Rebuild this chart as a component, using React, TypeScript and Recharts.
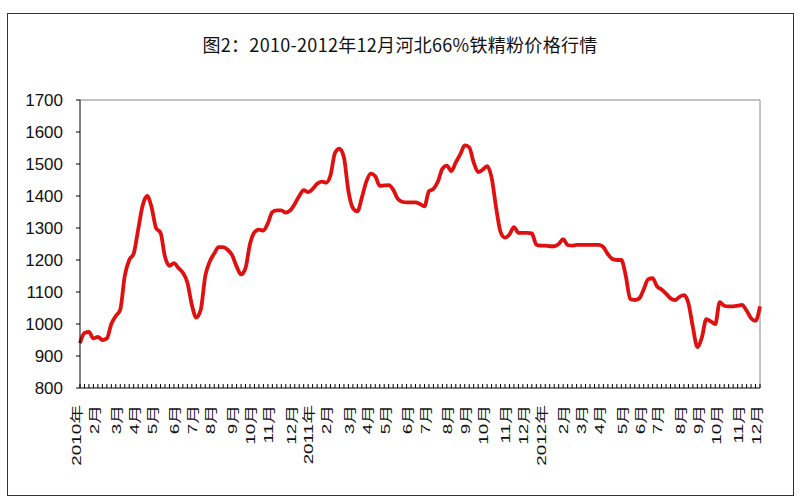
import { LineChart, Line, XAxis, YAxis, ReferenceLine } from 'recharts'

// weekly price, yuan/ton
const prices2010 = [
  940, 972, 975, 955, 960, 950, 955, 1000, 1025, 1045, 1150, 1200, 1220,
  1295, 1370, 1400, 1365, 1300, 1285, 1210, 1182, 1190, 1175, 1160, 1130, 1060,
  1020, 1045, 1150, 1195, 1220, 1240, 1240, 1232, 1215, 1180, 1155, 1175, 1250,
  1287, 1295, 1292, 1315, 1350, 1355, 1355, 1348, 1355, 1375, 1400, 1418, 1412,
]
const prices2011 = [
  1422, 1438, 1445, 1442, 1465, 1535, 1548, 1520, 1415, 1362, 1352, 1395, 1445,
  1470, 1462, 1432, 1433, 1434, 1420, 1392, 1382, 1380, 1380, 1380, 1375, 1368,
  1415, 1422, 1445, 1485, 1495, 1478, 1505, 1530, 1558, 1552, 1505, 1475, 1482,
  1493, 1458, 1365, 1288, 1270, 1280, 1303, 1285, 1285, 1285, 1283, 1248, 1245,
]
const prices2012 = [
  1245, 1243, 1243, 1250, 1265, 1247, 1245, 1247, 1247, 1247, 1247, 1247, 1247,
  1240, 1218, 1203, 1200, 1200, 1150, 1078, 1075, 1080, 1108, 1140, 1143, 1117,
  1108, 1095, 1080, 1075, 1085, 1090, 1065, 990, 928, 958, 1015, 1008, 1000,
  1068, 1057, 1055, 1055, 1057, 1060, 1042, 1018, 1010, 1055,
]

const monthLabels = [
  '2010年', '2月', '3月', '4月', '5月', '6月', '7月', '8月', '9月', '10月', '11月', '12月',
  '2011年', '2月', '3月', '4月', '5月', '6月', '7月', '8月', '9月', '10月', '11月', '12月',
  '2012年', '2月', '3月', '4月', '5月', '6月', '7月', '8月', '9月', '10月', '11月', '12月',
]

const yTicks = [800, 900, 1000, 1100, 1200, 1300, 1400, 1500, 1600, 1700]

const allPrices = [...prices2010, ...prices2011, ...prices2012]
const data = allPrices.map((price, i) => ({ week: i, price }))
const lastWeek = allPrices.length - 1

// label goes on the first week of each month
const labelAt: Record<number, string> = {}
monthLabels.forEach((m, i) => {
  labelAt[Math.round((i * lastWeek) / 35)] = m
})

const font = '"Liberation Sans", Arial, "Noto Sans CJK SC", sans-serif'

function WeekTick(props: any) {
  const { x, y, payload } = props
  const label = labelAt[payload.value]
  return (
    <g>
      <line x1={x} y1={y} x2={x} y2={y - 4} stroke="#000" />
      {label && (
        <text
          transform={`translate(${x - 4},${y + 17}) rotate(-90) scale(1.45,1)`}
          textAnchor="end"
          dominantBaseline="central"
          fontSize={13}
          fill="#111"
          fontFamily={font}
        >
          {label}
        </text>
      )}
    </g>
  )
}

export default function App() {
  return (
    <div style={{ position: 'absolute', left: 0, top: 0, width: 800, height: 500, background: '#fff' }}>
      <div
        style={{
          position: 'absolute', left: 7, top: 13, width: 787, height: 483,
          border: '1px solid #333', boxSizing: 'border-box',
        }}
      />
      <div
        style={{
          position: 'absolute', left: 0, top: 31, width: 800, textAlign: 'center',
          fontFamily: '"Noto Sans CJK SC", sans-serif', fontSize: 18, color: '#111',
          letterSpacing: 0.3,
        }}
      >
        图2：2010-2012年12月河北66%铁精粉价格行情
      </div>
      <div style={{ position: 'absolute', left: 0, top: 0 }}>
        <LineChart width={800} height={500} data={data} margin={{ top: 100, right: 40, bottom: 32, left: 20 }}>
          <XAxis
            dataKey="week"
            type="number"
            domain={[0, lastWeek]}
            ticks={data.map((d) => d.week)}
            interval={0}
            tick={<WeekTick />}
            tickLine={false}
            tickSize={0}
            tickMargin={0}
            height={80}
            stroke="#000"
          />
          <YAxis
            domain={[800, 1700]}
            ticks={yTicks}
            interval={0}
            width={60}
            tickSize={4}
            tickMargin={13}
            stroke="#000"
            tick={{ fill: '#111', fontSize: 17, fontFamily: font }}
          />
          <ReferenceLine y={1700} stroke="#888" />
          <ReferenceLine x={lastWeek} stroke="#888" />
          <Line
            type="monotone"
            dataKey="price"
            stroke="#e01010"
            strokeWidth={3.8}
            strokeLinejoin="round"
            dot={false}
            isAnimationActive={false}
          />
        </LineChart>
      </div>
    </div>
  )
}
